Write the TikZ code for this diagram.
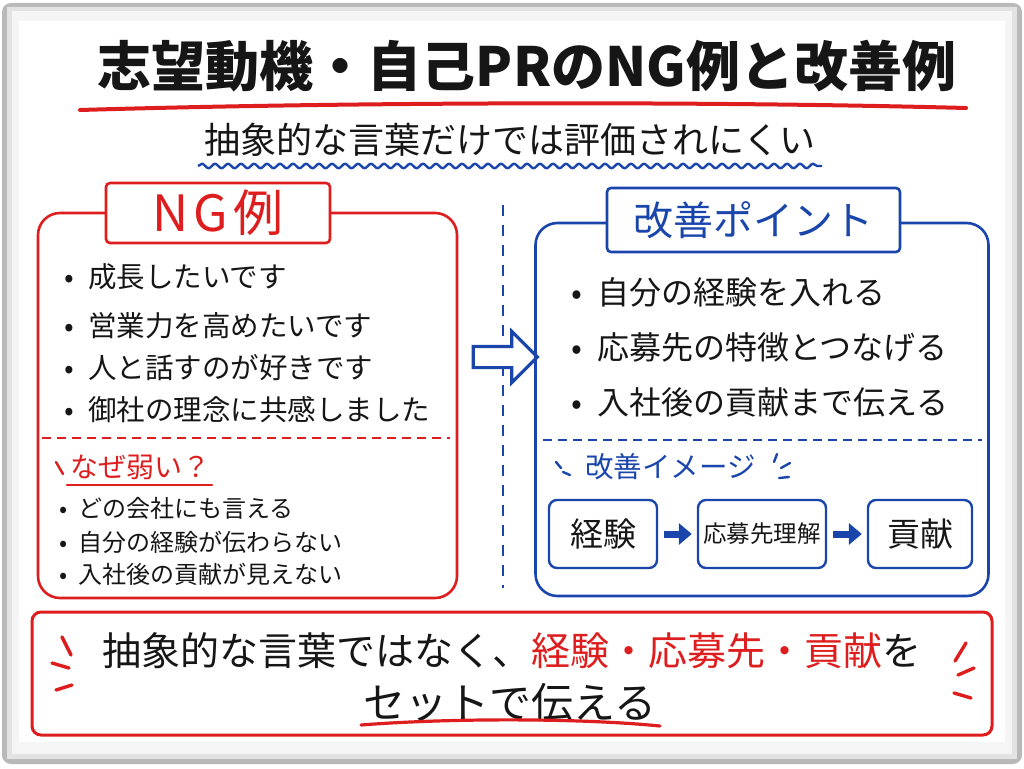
\documentclass[tikz,border=0pt]{standalone}
\usepackage{fontspec}
\setmainfont{Noto Sans CJK JP}
\usetikzlibrary{shapes.arrows,decorations.pathmorphing,arrows.meta}
\definecolor{ngred}{RGB}{222,30,30}
\definecolor{kaiblue}{RGB}{26,70,172}
\definecolor{ink}{RGB}{22,22,22}
\newcommand{\fsz}[1]{\fontsize{#1}{#1}\selectfont}
\newcommand{\bul}[1]{\makebox[#1][l]{•}}

\begin{document}
\begin{tikzpicture}[x=1pt,y=-1pt,
    ngframe/.style={
      draw=ngred,
      line width=2.6pt,
      rounded corners=22pt,
      minimum width=419pt,
      minimum height=385pt,
      inner sep=0pt
    },
    kaiframe/.style={
      draw=kaiblue,
      line width=2.6pt,
      rounded corners=22pt,
      minimum width=453pt,
      minimum height=373pt,
      inner sep=0pt
    },
    tabbox/.style={
      fill=white,
      line width=2.6pt,
      rounded corners=4pt,
      minimum height=60pt
    },
    item/.style={anchor=west, inner sep=0pt, text=ink},
    flowbox/.style={
      draw=kaiblue,
      line width=2.4pt,
      rounded corners=8pt,
      minimum height=68pt,
      text=ink
    },
    flowarrow/.style={
      kaiblue,
      line width=7pt,
      -{Triangle[length=13pt,width=21pt]},
      shorten <=6pt,
      shorten >=5pt
    },
    stroke/.style={line width=2.4pt, line cap=round}
  ]
  \useasboundingbox (0,0) rectangle (1024,768);
  % whiteboard
  \fill[gray!55, rounded corners=9pt] (2,3) rectangle (1022,764);
  \fill[gray!22] (7,7) rectangle (1017,759);
  \fill[gray!8] (12,11) rectangle (1012,754);
  \fill[white] (19,21) rectangle (1005,742);

  \node[font=\fsz{54}\bfseries, text=ink] (title) at (527,66) {志望動機・自己PRのNG例と改善例};
  \draw[ngred, line width=4pt, line cap=round] (80,110) .. controls (350,102) and (700,101) .. (966,108);
  \node[font=\fsz{36}, text=ink] (sub) at (510,140) {抽象的な言葉だけでは評価されにくい};
  \draw[kaiblue, line width=2.4pt, decorate, decoration={snake, amplitude=2.2pt, segment length=13pt}] (198,166) -- (822,166);

  % NG side
  \node[ngframe] (ng) at (247.5,405.5) {};
  \node[tabbox, draw=ngred, minimum width=224pt, text=ngred, font=\fsz{50}] (ngtab) at (218,213) {N\hspace{5pt}G\hspace{5pt}例};
  \node[item, font=\fsz{28.5}] (ng1) at (64,277) {\bul{24pt}成長したいです};
  \node[item, font=\fsz{28.5}] (ng2) at (64,326) {\bul{24pt}営業力を高めたいです};
  \node[item, font=\fsz{28.5}] (ng3) at (64,368) {\bul{24pt}人と話すのが好きです};
  \node[item, font=\fsz{28.5}] (ng4) at (64,410) {\bul{24pt}御社の理念に共感しました};
  \draw[ngred, line width=1.8pt, dash pattern=on 9pt off 6pt] (42,438) -- (450,438);
  \node[item, font=\fsz{28}, text=ngred] (why) at (70,467) {なぜ弱い？};
  \draw[ngred, stroke] (67,485) -- (212,485);
  \draw[ngred, stroke] (56,462) -- (63,474);
  \node[item, font=\fsz{24}] (why1) at (59,508) {\bul{19pt}どの会社にも言える};
  \node[item, font=\fsz{24}] (why2) at (59,542) {\bul{19pt}自分の経験が伝わらない};
  \node[item, font=\fsz{24}] (why3) at (59,574) {\bul{19pt}入社後の貢献が見えない};

  \draw[kaiblue, line width=2.2pt, dash pattern=on 11pt off 9pt] (503,205) -- (503,588);
  \node[single arrow, draw=kaiblue, fill=white, line width=3.2pt, minimum height=64pt,
    single arrow head extend=15pt, inner sep=9pt] (shift) at (500,357) {};

  % improvement side
  \node[kaiframe] (kai) at (762,409.5) {};
  \node[tabbox, draw=kaiblue, minimum width=293pt, minimum height=64pt, text=kaiblue, font=\fsz{40}] (kaitab) at (753.5,220) {改善ポイント};
  \node[item, font=\fsz{32}] (kai1) at (571,292) {\bul{26pt}自分の経験を入れる};
  \node[item, font=\fsz{32}] (kai2) at (571,347) {\bul{26pt}応募先の特徴とつなげる};
  \node[item, font=\fsz{32}] (kai3) at (571,402) {\bul{26pt}入社後の貢献まで伝える};
  \draw[kaiblue, line width=1.8pt, dash pattern=on 9pt off 6pt] (543,440) -- (982,440);
  \node[item, font=\fsz{28.5}, text=kaiblue] (img) at (585,467) {改善イメージ};
  \draw[kaiblue, stroke] (556,462) -- (561,468);
  \draw[kaiblue, stroke] (563,472) -- (570,475);
  \draw[kaiblue, stroke] (777,454) -- (774,462);
  \draw[kaiblue, stroke] (790,463) -- (781,468);
  \draw[kaiblue, stroke] (789,477) -- (779,478);
  \node[flowbox, minimum width=108pt, font=\fsz{33}] (exp) at (603,534) {経験};
  \node[flowbox, minimum width=128pt, font=\fsz{23.5}] (appl) at (762,534) {応募先理解};
  \node[flowbox, minimum width=104pt, font=\fsz{33}] (cont) at (920,534) {貢献};
  \draw[flowarrow] (exp) -- (appl);
  \draw[flowarrow] (appl) -- (cont);

  % conclusion
  \node[draw=ngred, line width=3pt, rounded corners=9pt, minimum width=960pt, minimum height=123pt] (concl) at (512,673.5) {};
  \node[font=\fsz{39}, text=ink] (concl1) at (512,651) {抽象的な言葉ではなく、{\color{ngred}経験・応募先・貢献}を};
  \node[font=\fsz{42}, text=ink] (concl2) at (510,703) {セットで伝える};
  \draw[ngred, line width=3.2pt, line cap=round] (361,725) .. controls (450,718) and (580,718) .. (660,726);
  \draw[ngred, stroke, line width=3.4pt] (62,637) -- (71,655);
  \draw[ngred, stroke, line width=3.4pt] (52,663) -- (69,668);
  \draw[ngred, stroke, line width=3.4pt] (56,690) -- (72,685);
  \draw[ngred, stroke, line width=3.4pt] (966,643) -- (955,661);
  \draw[ngred, stroke, line width=3.4pt] (974,668) -- (958,675);
  \draw[ngred, stroke, line width=3.4pt] (954,693) -- (971,698);
\end{tikzpicture}
\end{document}
